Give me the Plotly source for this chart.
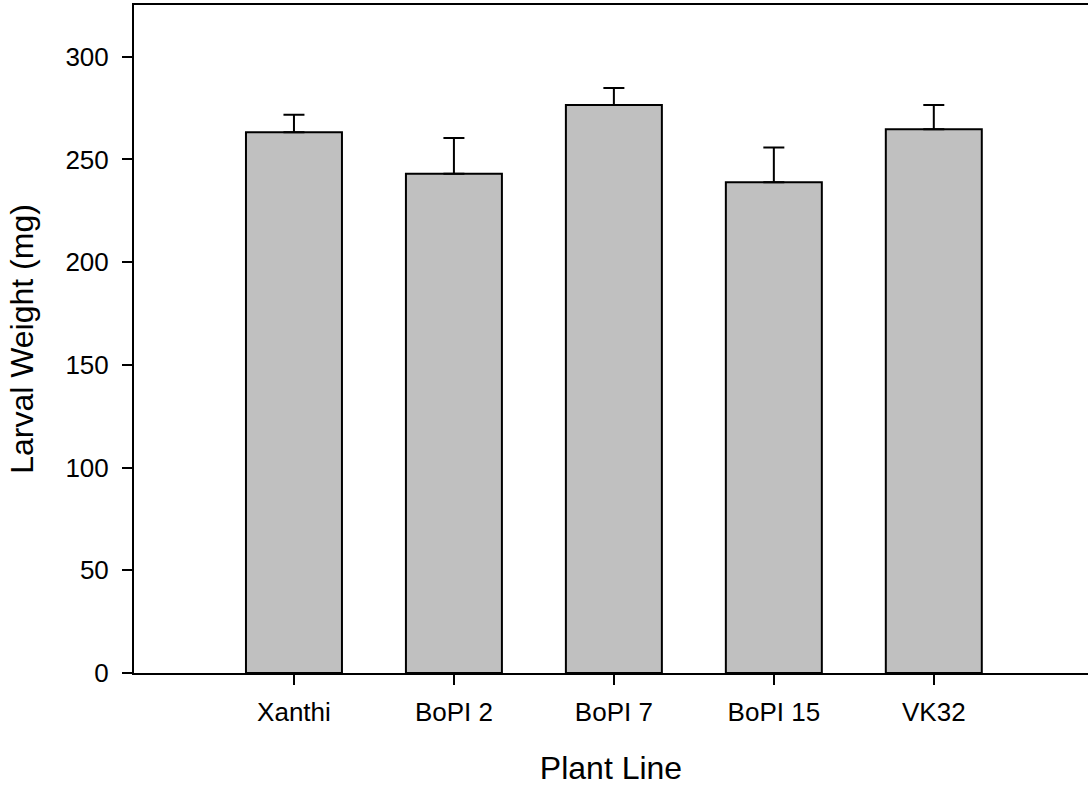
import plotly.graph_objects as go

# Mean larval weight per plant line, with standard error (upper bar only)
plant_lines = ["Xanthi", "BoPI 2", "BoPI 7", "BoPI 15", "VK32"]
weight_mean = [263.3, 243.0, 276.5, 238.9, 264.7]
weight_se = [8.5, 17.5, 8.3, 16.9, 11.8]
y_ticks = [0, 50, 100, 150, 200, 250, 300]

FONT = "Arial, 'Liberation Sans', sans-serif"

fig = go.Figure(
    go.Bar(
        x=plant_lines,
        y=weight_mean,
        width=0.6,
        marker=dict(color="#c0c0c0", line=dict(color="black", width=2)),
        error_y=dict(
            type="data",
            symmetric=False,
            array=weight_se,
            arrayminus=[0] * len(weight_se),
            color="black",
            thickness=2,
            width=10.5,
        ),
    )
)

fig.update_layout(
    width=1088,
    height=786,
    margin=dict(l=134, r=0, t=5, b=113),
    paper_bgcolor="white",
    plot_bgcolor="white",
    showlegend=False,
    font=dict(family=FONT, color="black"),
)

fig.update_xaxes(
    type="category",
    range=[-1, 4.964],
    showline=True,
    linecolor="black",
    linewidth=2,
    mirror=True,
    ticks="outside",
    ticklen=10,
    tickwidth=2,
    tickcolor="black",
    ticklabelstandoff=5,
    showgrid=False,
    zeroline=False,
    tickfont=dict(size=26, family=FONT, color="black"),
    title=dict(text="Plant Line", font=dict(size=32, family=FONT, color="black"), standoff=30),
)

fig.update_yaxes(
    range=[0, 325.2],
    tickvals=y_ticks,
    showline=True,
    linecolor="black",
    linewidth=2,
    mirror=False,
    ticks="outside",
    ticklen=10,
    tickwidth=2,
    tickcolor="black",
    ticklabelstandoff=8,
    showgrid=False,
    zeroline=False,
    tickfont=dict(size=26, family=FONT, color="black"),
    title=dict(text="Larval Weight (mg)", font=dict(size=32, family=FONT, color="black"), standoff=22),
)

fig.write_html("out.html")
